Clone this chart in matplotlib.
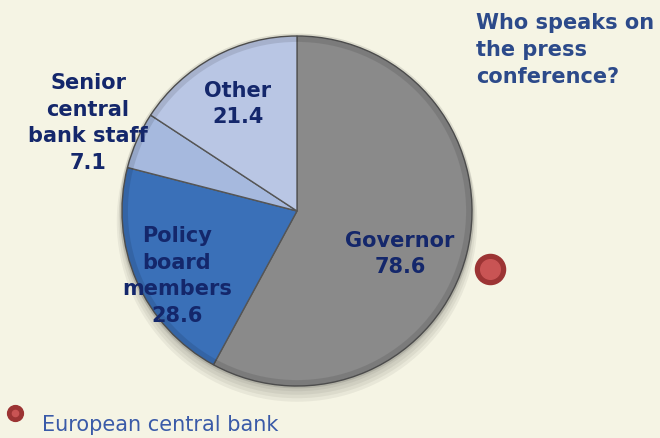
import matplotlib.pyplot as plt
from matplotlib.patches import Circle

# Who speaks at the press conference (share of press conferences, %)
categories = ["Governor", "Policy\nboard\nmembers", "Senior\ncentral\nbank staff", "Other"]
values = [78.6, 28.6, 7.1, 21.4]
slice_colors = ["#8a8a8a", "#3a70b8", "#a6b9de", "#b9c6e4"]

title_text = "Who speaks on\nthe press\nconference?"
legend_text = "European central bank"

bg = "#f5f4e4"
label_color = "#14276b"
title_color = "#2c4a8a"

fig = plt.figure(figsize=(6.6, 4.39), dpi=100, facecolor=bg)

W, H = 660, 439
cx, cy, r = 297, 212, 175
ax = fig.add_axes([(cx - r) / W, (H - cy - r) / H, 2 * r / W, 2 * r / H])
ax.set_facecolor("none")
ax.axis("off")

# soft shadow under the pie
for i in range(4):
    ax.add_patch(Circle((0.0, -0.03 - 0.01 * i), 1.0 + 0.01 * i, color="#000000",
                        alpha=0.05, zorder=0, lw=0, clip_on=False))

wedges, _ = ax.pie(values, colors=slice_colors, startangle=90, counterclock=False,
                   radius=1.0, wedgeprops=dict(edgecolor="#555555", linewidth=1.0))
for w in wedges:
    w.set_zorder(2)
    w.set_clip_on(False)

# bevel: darker ring near the rim
ax.add_patch(Circle((0, 0), 0.99, fill=False, edgecolor="#000000", alpha=0.10, lw=6,
                    zorder=3, clip_on=False))
ax.set_xlim(-1, 1)
ax.set_ylim(-1, 1)
ax.set_aspect("auto")


def px(x, y):
    return x / W, 1 - y / H


label_pos = {
    "Governor": (400, 254),
    "Policy\nboard\nmembers": (177, 276),
    "Senior\ncentral\nbank staff": (88, 123),
    "Other": (238, 104),
}
for cat, val in zip(categories, values):
    x, y = px(*label_pos[cat])
    fig.text(x, y, f"{cat}\n{val}", ha="center", va="center", fontsize=15,
             fontweight="bold", color=label_color, linespacing=1.42, zorder=5)

fig.text(*px(476, 50), title_text, ha="left", va="center", fontsize=15,
         fontweight="bold", color=title_color, linespacing=1.42)

# series marker on the right and legend entry
mk = fig.add_axes([0, 0, 1, 1], facecolor="none")
mk.axis("off")
mk.set_xlim(0, W)
mk.set_ylim(H, 0)
mk.scatter([490], [270], s=470, color="#9c3434", zorder=5)
mk.scatter([490], [270], s=200, color="#c95454", zorder=6)
mk.scatter([15], [414], s=130, color="#9c3434", zorder=5)
mk.scatter([15], [414], s=20, color="#c95454", zorder=6)

fig.text(*px(42, 425), legend_text, ha="left", va="center", fontsize=15,
         color="#3a5aa8")

fig.savefig("out.png", dpi=100, facecolor=bg)
